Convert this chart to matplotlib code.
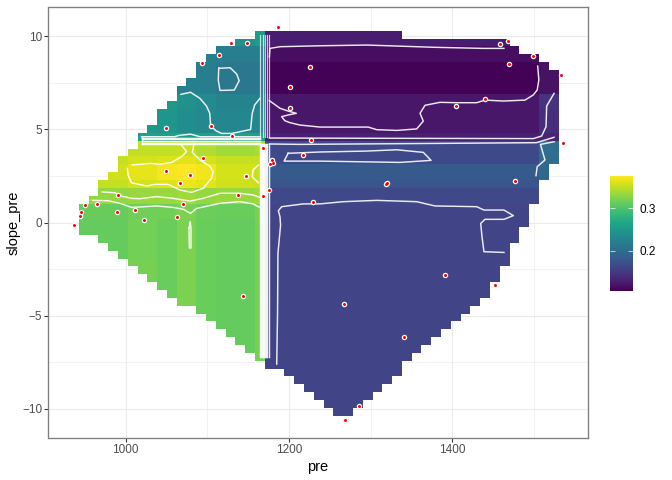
#!/usr/bin/env python3
"""Surface of pre / slope_pre as a raster with white contours and the sample points on top."""

import numpy as np
import matplotlib
matplotlib.use('Agg')
import matplotlib.pyplot as plt
from matplotlib.path import Path

plt.rcParams['font.family'] = ['Liberation Sans', 'DejaVu Sans']

# sample points
point_x = [1186, 1129, 1148, 1114, 1093, 1225.7, 1201.6, 1201, 1049, 1104.4, 1130.5, 1227, 1168, 1095,
           1217.6, 1179, 1176.7, 1181, 1049.3, 1079, 1147, 1066, 1175.5, 1167.7, 1137, 991, 965, 950,
           945.6, 943.6, 936.6, 989.7, 1011.3, 1022.4, 1070, 1062.4, 1229, 1143.2, 1458.4, 1468.6,
           1498.9, 1469.9, 1533, 1440.5, 1405, 1536, 1320.5, 1318.4, 1477, 1391, 1452, 1267, 1341,
           1285.8, 1269]
point_y = [10.53, 9.65, 9.67, 9.02, 8.55, 8.38, 7.27, 6.14, 5.06, 5.19, 4.67, 4.43, 3.99, 3.48,
           3.61, 3.36, 3.16, 3.18, 2.77, 2.57, 2.52, 2.12, 1.75, 1.42, 1.48, 1.46, 0.99, 0.92,
           0.58, 0.37, -0.12, 0.55, 0.69, 0.13, 1.01, 0.31, 1.12, -3.97, 9.61, 9.74,
           8.93, 8.50, 7.95, 6.62, 6.28, 4.29, 2.14, 2.07, 2.21, -2.82, -3.38, -4.40, -6.14,
           -9.87, -10.6]

# surface values by band: one row per slope_pre band (bottom to top), one column per pre band
x_breaks = [1002, 1037, 1062, 1086, 1109, 1158, 1170.5, 1270, 1510]
y_breaks = [-1.9, 0.3, 1.1, 1.9, 2.4, 3.18, 3.6, 4.38, 4.85, 6.0, 6.94, 8.65, 9.45]
z_bands = [
    [.312, .320, .314, .323, .314, .312, .320, .160, .160, .160],
    [.312, .319, .314, .323, .314, .312, .320, .160, .160, .160],
    [.313, .317, .317, .323, .315, .314, .322, .160, .160, .160],
    [.332, .334, .334, .337, .332, .334, .338, .165, .165, .170],
    [.352, .358, .362, .368, .364, .356, .352, .176, .176, .184],
    [.356, .366, .372, .376, .370, .358, .352, .181, .181, .197],
    [.352, .358, .361, .364, .358, .352, .352, .166, .166, .200],
    [.348, .350, .350, .353, .344, .338, .343, .166, .166, .203],
    [.258, .258, .258, .258, .258, .258, .258, .130, .130, .133],
    [.252, .252, .248, .238, .233, .230, .230, .122, .122, .140],
    [.250, .250, .250, .242, .234, .227, .224, .122, .122, .146],
    [.222, .222, .222, .222, .220, .213, .213, .108, .108, .118],
    [.220, .220, .220, .220, .220, .220, .220, .115, .115, .128],
    [.258, .258, .258, .258, .258, .243, .253, .128, .128, .130],
]

# contour lines
loop_teal = [(1114, 8.29), (1128, 8.32), (1136, 7.98), (1139, 7.62), (1133, 7.12), (1115.5, 7.10), (1113.4, 7.66), (1114, 8.29)]
line_teal = [(1067.7, 6.89), (1079.5, 7.0), (1091, 6.67), (1099, 6.26), (1103, 5.87), (1104, 5.19), (1111, 4.92), (1117.5, 4.79),
             (1130, 4.79), (1153, 5.0), (1155, 5.87), (1158, 6.32), (1164.4, 6.67)]
line_bump = [(1019.5, 4.61), (1060, 4.61), (1065, 4.68), (1079.5, 4.75), (1091, 4.61), (1165, 4.61)]
line_yellow_a = [(1008, 3.09), (1029.7, 3.18), (1042, 3.13), (1056.3, 3.23), (1068.5, 3.54), (1074.6, 3.81), (1067.3, 4.22)]
line_yellow_b = [(1083.6, 4.22), (1081.6, 3.77), (1091, 3.36), (1103, 3.04), (1107, 2.73), (1105, 2.37), (1095, 1.84), (1080.7, 1.62),
                 (1066.5, 1.75), (1052, 2.05), (1035.8, 2.05), (1025.6, 1.96), (1007, 2.14), (1003, 2.55), (1002, 2.91)]
line_yellow_c = [(1162.4, 3.09), (1156, 2.82), (1155, 2.46), (1162.4, 2.14)]
line_green_a = [(971.3, 1.64), (986.9, 1.60), (995, 1.42), (1007, 1.30), (1017.5, 1.28), (1038, 1.39), (1058, 1.30), (1078.7, 1.15),
                (1095, 1.30), (1115.5, 1.57), (1140, 1.57), (1156, 1.48), (1164.4, 1.35)]
line_green_b = [(959.5, 1.19), (978.7, 1.17), (993, 1.03), (1007.3, 0.81), (1038, 0.89), (1058.3, 0.81), (1070.5, 0.71), (1079.5, 0.49),
                (1087, 0.76), (1115.5, 1.03), (1140, 1.12), (1156, 1.0), (1164.4, 0.81)]
loop_green = [(1077.5, -0.3), (1079, 0.05), (1080, -0.3), (1080, -1.37), (1078, -1.37), (1077.5, -0.3)]
line_top = [(1176, 8.9), (1176.7, 9.36), (1189, 9.45), (1238, 9.5), (1295, 9.54), (1376.8, 9.42), (1438, 9.36), (1463.3, 9.36)]
line_purple = [(1175.9, 6.55), (1180.8, 6.40), (1189, 6.14), (1199, 5.99), (1209, 5.87), (1199, 5.78), (1191, 5.69), (1195, 5.47),
               (1201, 5.37), (1213.4, 5.24), (1238, 5.13), (1297, 5.13), (1307.4, 4.99), (1331.9, 4.95), (1356.4, 5.03), (1364.5, 5.45),
               (1360.5, 5.87), (1366.6, 6.30), (1385, 6.46), (1405.4, 6.44), (1429.9, 6.44), (1440, 6.58), (1462.5, 6.53), (1489, 6.58),
               (1499, 6.85), (1504, 7.12), (1506, 7.66), (1504.6, 8.41)]
line_right_a = [(1524.6, 6.94), (1515.6, 6.26), (1514.8, 5.15), (1509.5, 4.65), (1499.3, 4.51), (1176, 4.54)]
line_right_b = [(1524.6, 4.58), (1503, 4.29), (1213, 4.20), (1176, 4.22)]
line_right_c = [(1524.6, 4.34), (1508, 4.20), (1513.5, 3.36), (1504, 3.0), (1502.5, 2.52)]
loop_blue = [(1199, 3.72), (1238, 3.79), (1295, 3.84), (1332, 3.91), (1364.5, 3.77), (1374, 3.34), (1336, 3.23), (1238, 3.30), (1194, 3.30), (1199, 3.72)]
line_lower = [(1185, -7.61), (1186, -4.88), (1186.5, -1.66), (1189.7, -0.14), (1189, 0.31), (1187, 0.63), (1191, 0.85), (1217.5, 1.0),
              (1238, 1.0), (1266.6, 1.12), (1307.4, 1.19), (1356.4, 1.12), (1378.8, 0.89), (1429.9, 0.85), (1438.8, 0.67), (1463.3, 0.67),
              (1474.8, 0.37), (1463.3, 0.17), (1440, 0.17), (1434.8, -0.05), (1436.4, -0.76), (1438.8, -1.57), (1463.3, -1.61)]
contour_lines = [loop_teal, line_teal, line_bump, line_yellow_a, line_yellow_b, line_yellow_c, line_green_a, line_green_b,
                 loop_green, line_top, line_purple, line_right_a, line_right_b, line_right_c, loop_blue, line_lower]

# the stacked contours at the jump in the surface
stack_h_y = [4.52, 4.47, 4.38, 4.30, 4.22]
stack_h_x = [1019.5, 1165]
stack_v_top_x = [1164.4, 1167.7, 1170.6, 1173.4, 1175.9]
stack_v_top_y = [4.6, 10.08]
stack_v_low_x = [1164.0, 1165.2, 1166.4, 1167.6, 1168.8, 1170.0, 1171.2, 1172.4, 1173.6, 1175.0]
stack_v_low_y = [-7.21, 4.22]

x_ticks = [1000, 1200, 1400]
x_minor = [1100, 1300, 1500]
y_ticks = [-10, -5, 0, 5, 10]
y_minor = [-7.5, -2.5, 2.5, 7.5]
bar_ticks = [0.2, 0.3]
z_low, z_high = 0.106, 0.376


def hull_of(xs, ys):
    """Convex hull by monotone chain, the raster only exists inside it"""
    pts = sorted(set(zip(xs, ys)))

    def half(seq):
        out = []
        for p in seq:
            while len(out) > 1 and ((out[-1][0] - out[-2][0]) * (p[1] - out[-2][1])
                                    - (out[-1][1] - out[-2][1]) * (p[0] - out[-2][0])) <= 0:
                out.pop()
            out.append(p)
        return out[:-1]

    return half(pts) + half(pts[::-1])


def build_surface():
    """Grid of cell centres, band values looked up per cell, masked outside the hull"""
    gx = min(point_x) + 11.99 * np.arange(50)
    gy = min(point_y) + 0.4224 * np.arange(50)
    zt = np.array(z_bands)
    z = zt[np.searchsorted(y_breaks, gy)][:, np.searchsorted(x_breaks, gx)]
    xx, yy = np.meshgrid(gx, gy)
    hull = Path(hull_of(point_x, point_y) + [hull_of(point_x, point_y)[0]])
    inside = hull.contains_points(np.c_[xx.ravel(), yy.ravel()]).reshape(xx.shape)
    return gx, gy, np.ma.masked_where(~inside, z)


def main():
    fig = plt.figure(figsize=(7, 5), dpi=96)
    w, h = 672, 480
    ax = fig.add_axes([48.5 / w, 1 - 438 / h, 539 / w, 431 / h])
    ax.set_xlim(905.5, 1565.6)
    ax.set_ylim(-11.585, 11.585)

    # theme_bw style background
    ax.set_xticks(x_ticks)
    ax.set_yticks(y_ticks)
    ax.set_axisbelow(True)
    ax.grid(True, color='#ebebeb', linewidth=0.85)
    for v in x_minor:
        ax.axvline(v, color='#ebebeb', linewidth=0.45, zorder=0.5)
    for v in y_minor:
        ax.axhline(v, color='#ebebeb', linewidth=0.45, zorder=0.5)

    gx, gy, z = build_surface()
    mesh = ax.pcolormesh(gx, gy, z, shading='nearest', cmap='viridis', vmin=z_low, vmax=z_high,
                         antialiased=False, linewidth=0, zorder=1)

    line_kw = dict(color='white', linewidth=1.1, alpha=0.9, zorder=2, solid_joinstyle='round')
    for path in contour_lines:
        xs, ys = zip(*path)
        ax.plot(xs, ys, **line_kw)
    for y in stack_h_y:
        ax.plot(stack_h_x, [y, y], **line_kw)
    ax.plot([stack_h_x[0], stack_h_x[0]], [stack_h_y[-1], line_bump[0][1]], **line_kw)
    for x in stack_v_top_x:
        ax.plot([x, x], stack_v_top_y, color='white', linewidth=0.9, alpha=0.75, zorder=2)
    for x in stack_v_low_x:
        ax.plot([x, x], stack_v_low_y, **line_kw)

    ax.scatter(point_x, point_y, s=17, c='white', linewidths=0, zorder=3)
    ax.scatter(point_x, point_y, s=5, c='red', linewidths=0, zorder=4)

    for spine in ax.spines.values():
        spine.set_color('#7f7f7f')
        spine.set_linewidth(1.0)
    ax.tick_params(axis='both', length=2.75, width=0.8, color='#333333', labelcolor='#4d4d4d',
                   labelsize=8.8, pad=2)
    ax.set_xlabel('pre', fontsize=11, labelpad=2.5)
    ax.set_ylabel('slope_pre', fontsize=11, labelpad=1)

    # colour bar without a title, white ticks on both sides
    cax = fig.add_axes([610 / w, 1 - 291 / h, 23 / w, 115 / h])
    bar = fig.colorbar(mesh, cax=cax, ticks=bar_ticks)
    bar.outline.set_visible(False)
    bar.ax.set_yticklabels([f'{t:.1f}' for t in bar_ticks])
    cax.tick_params(axis='y', left=True, right=True, direction='in', length=3.5, width=0.5,
                    color='white', labelsize=8.8, labelcolor='black', pad=5)

    fig.savefig('out.png', dpi=96)


if __name__ == "__main__":
    main()
